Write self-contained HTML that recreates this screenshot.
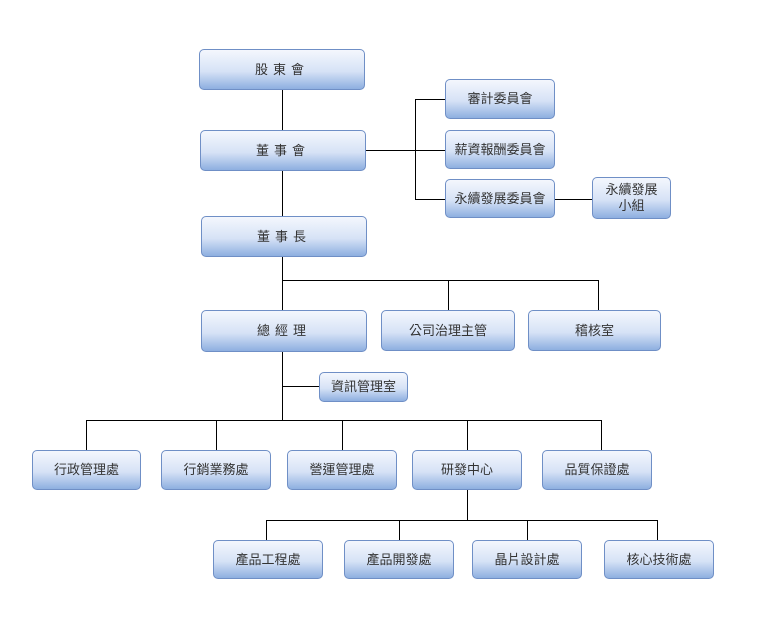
<!DOCTYPE html>
<html><head><meta charset="utf-8"><style>
body{margin:0;width:760px;height:619px;background:#fff;position:relative;overflow:hidden;font-family:"Liberation Sans","Noto Sans CJK TC",sans-serif}
.b{position:absolute;box-sizing:border-box;border:1px solid #6f8fc6;border-radius:5px;background:linear-gradient(#f4f7fd,#d6e2f6 55%,#8eafe0);display:flex;align-items:center;justify-content:center;text-align:center;font-size:13px;color:#333;line-height:16px}
.l{position:absolute;background:#000}
.h{height:1px}.v{width:1px}
</style></head><body>
<div class="l v" style="left:282px;top:89px;height:331px"></div>
<div class="l h" style="left:366px;top:150px;width:49px"></div>
<div class="l v" style="left:415px;top:99px;height:101px"></div>
<div class="l h" style="left:415px;top:99px;width:30px"></div>
<div class="l h" style="left:415px;top:150px;width:30px"></div>
<div class="l h" style="left:415px;top:199px;width:30px"></div>
<div class="l h" style="left:555px;top:199px;width:37px"></div>
<div class="l h" style="left:282px;top:280px;width:317px"></div>
<div class="l v" style="left:448px;top:280px;height:30px"></div>
<div class="l v" style="left:598px;top:280px;height:30px"></div>
<div class="l h" style="left:282px;top:386px;width:37px"></div>
<div class="l h" style="left:86px;top:420px;width:516px"></div>
<div class="l v" style="left:86px;top:420px;height:30px"></div>
<div class="l v" style="left:216px;top:420px;height:30px"></div>
<div class="l v" style="left:342px;top:420px;height:30px"></div>
<div class="l v" style="left:467px;top:420px;height:30px"></div>
<div class="l v" style="left:601px;top:420px;height:30px"></div>
<div class="l v" style="left:467px;top:490px;height:30px"></div>
<div class="l h" style="left:266px;top:520px;width:392px"></div>
<div class="l v" style="left:266px;top:520px;height:20px"></div>
<div class="l v" style="left:399px;top:520px;height:20px"></div>
<div class="l v" style="left:527px;top:520px;height:20px"></div>
<div class="l v" style="left:657px;top:520px;height:20px"></div>

<div class="b" style="left:199px;top:49px;width:166px;height:41px;letter-spacing:5px">股東會</div>
<div class="b" style="left:200px;top:130px;width:166px;height:41px;letter-spacing:5px">董事會</div>
<div class="b" style="left:201px;top:216px;width:166px;height:41px;letter-spacing:5px">董事長</div>
<div class="b" style="left:201px;top:310px;width:166px;height:42px;letter-spacing:5px">總經理</div>
<div class="b" style="left:381px;top:310px;width:134px;height:41px">公司治理主管</div>
<div class="b" style="left:528px;top:310px;width:133px;height:41px">稽核室</div>
<div class="b" style="left:445px;top:79px;width:110px;height:40px">審計委員會</div>
<div class="b" style="left:445px;top:130px;width:110px;height:39px">薪資報酬委員會</div>
<div class="b" style="left:445px;top:179px;width:110px;height:39px">永續發展委員會</div>
<div class="b" style="left:592px;top:177px;width:79px;height:42px">永續發展<br>小組</div>
<div class="b" style="left:319px;top:372px;width:89px;height:30px">資訊管理室</div>
<div class="b" style="left:32px;top:450px;width:109px;height:40px">行政管理處</div>
<div class="b" style="left:161px;top:450px;width:110px;height:40px">行銷業務處</div>
<div class="b" style="left:287px;top:450px;width:110px;height:40px">營運管理處</div>
<div class="b" style="left:412px;top:450px;width:110px;height:40px">研發中心</div>
<div class="b" style="left:542px;top:450px;width:110px;height:40px">品質保證處</div>
<div class="b" style="left:213px;top:540px;width:110px;height:39px">產品工程處</div>
<div class="b" style="left:344px;top:540px;width:110px;height:39px">產品開發處</div>
<div class="b" style="left:472px;top:540px;width:110px;height:39px">晶片設計處</div>
<div class="b" style="left:604px;top:540px;width:110px;height:39px">核心技術處</div>
</body></html>
